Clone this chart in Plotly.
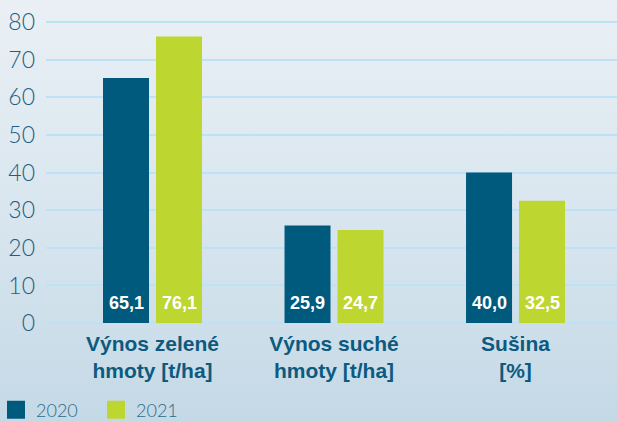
import base64
import plotly.graph_objects as go

# ---- data ----
categories = ["Výnos zelené<br>hmoty [t/ha]", "Výnos suché<br>hmoty [t/ha]", "Sušina<br>[%]"]
series_names = ["2020", "2021"]
values_2020 = [65.1, 25.9, 40.0]
values_2021 = [76.1, 24.7, 32.5]
y_ticks = [0, 10, 20, 30, 40, 50, 60, 70, 80]

colors = {"2020": "#005a7d", "2021": "#bed630"}
label_font = "Liberation Sans, Arial, sans-serif"
light_font = "Lato, Roboto, Liberation Sans, sans-serif"

def fmt(v):
    return f"{v:.1f}".replace(".", ",")

fig = go.Figure()
all_series = [values_2020, values_2021]
for name, vals in zip(series_names, all_series):
    fig.add_trace(go.Bar(
        x=categories, y=vals, name=name,
        marker=dict(color=colors[name], line=dict(width=0)),
        showlegend=False,
    ))
    # legend proxy with larger square symbol
    fig.add_trace(go.Scatter(
        x=[None], y=[None], mode="markers", name=name,
        marker=dict(symbol="square", size=16, color=colors[name],
                    line=dict(width=2, color=colors[name])),
    ))

# value labels near the bottom of each bar
bar_offset_px = 26.5
for j, vals in enumerate(all_series):
    for cat, v in zip(categories, vals):
        fig.add_annotation(
            x=cat, y=0, xref="x", yref="y", text=fmt(v), showarrow=False,
            xshift=(j - 0.5) * 2 * bar_offset_px, yshift=8, yanchor="bottom",
            font=dict(family=label_font, size=18, color="white", weight="bold"),
        )

# background gradient as inline svg image
svg = ('<svg xmlns="http://www.w3.org/2000/svg" width="617" height="421" preserveAspectRatio="none">'
       '<defs><linearGradient id="g" x1="0" y1="0" x2="0" y2="1">'
       '<stop offset="0" stop-color="#eaf0f5"/><stop offset="0.5" stop-color="#d9e6ef"/>'
       '<stop offset="1" stop-color="#c4d9e6"/></linearGradient></defs>'
       '<rect width="617" height="421" fill="url(#g)"/></svg>')
src = "data:image/svg+xml;base64," + base64.b64encode(svg.encode()).decode()

ml, mr, mt, mb = 46, 0, 20, 96
W, H = 617, 421
pw, ph = W - ml - mr, H - mt - mb

fig.add_layout_image(dict(
    source=src, xref="paper", yref="paper",
    x=-ml / pw, y=1 + mt / ph, sizex=W / pw, sizey=H / ph,
    xanchor="left", yanchor="top", sizing="stretch", layer="below",
))

fig.update_layout(
    width=W, height=H,
    margin=dict(l=ml, r=mr, t=mt, b=mb, pad=0, autoexpand=False),
    paper_bgcolor="#d9e6ef", plot_bgcolor="rgba(0,0,0,0)",
    barmode="group", bargap=0.416, bargroupgap=0.132,
    legend=dict(orientation="h", xref="container", yref="container",
                x=0, xanchor="left", y=11 / H, yanchor="middle", indentation=-4,
                font=dict(family=light_font, size=18, color="#2a6b8c", weight=300),
                bgcolor="rgba(0,0,0,0)", entrywidth=59, traceorder="normal"),
    xaxis=dict(range=[-0.5868, 2.559], showgrid=False, zeroline=False, showline=False,
               ticks="", ticklabelstandoff=4, automargin=False,
               tickfont=dict(family=label_font, size=21, color="#0d5a7f", weight="bold")),
    yaxis=dict(range=[-0.5, 80.5], tickvals=y_ticks, ticktext=[str(t) for t in y_ticks],
               showgrid=True, gridcolor="#bde2f6", gridwidth=1.5,
               zeroline=True, zerolinecolor="#bde2f6", zerolinewidth=1.5,
               showline=False, ticks="", ticklabelstandoff=10, automargin=False,
               tickfont=dict(family=light_font, size=23, color="#1f5e80", weight=300)),
)

fig.write_html("out.html", config={"displayModeBar": False},
               post_script="document.body.style.margin='0';document.body.style.overflow='hidden';")
